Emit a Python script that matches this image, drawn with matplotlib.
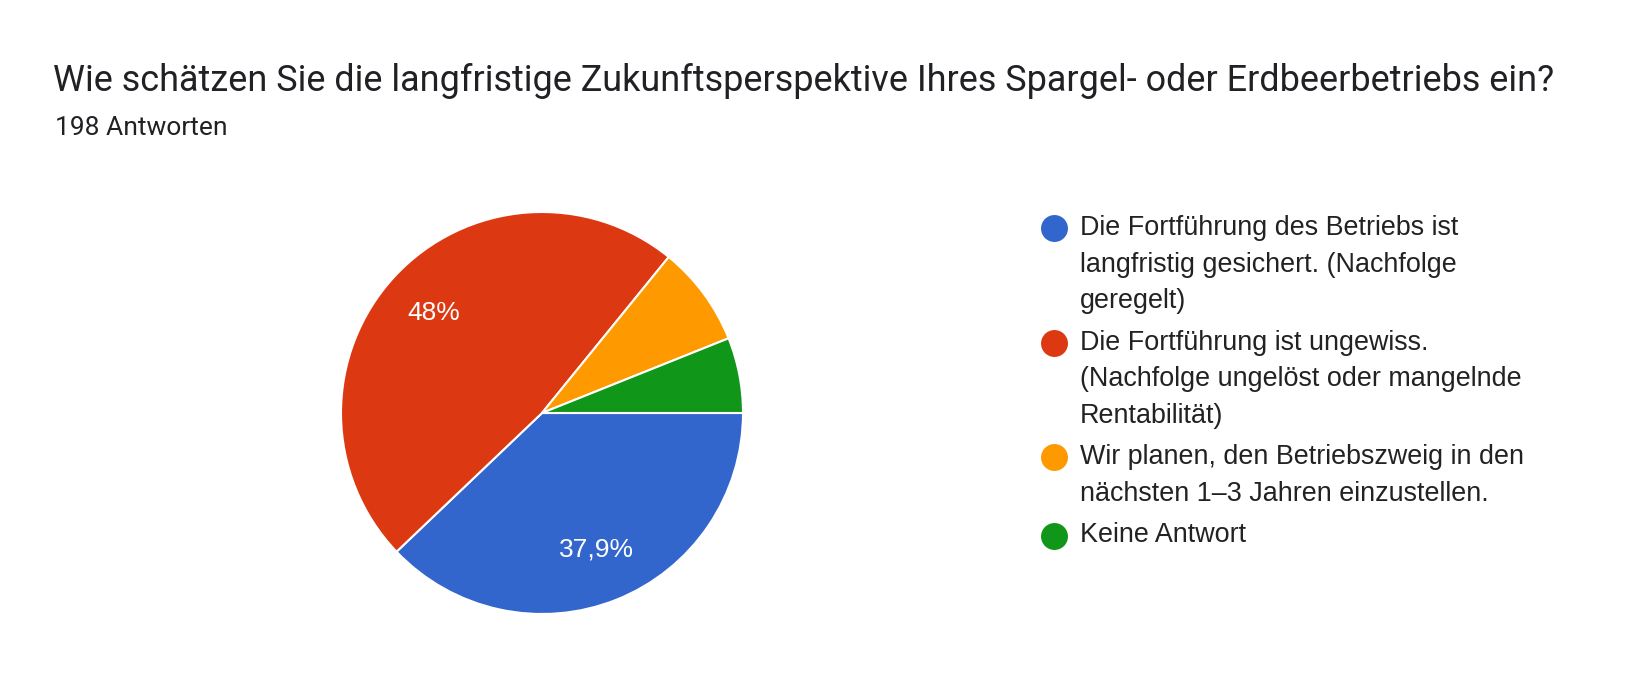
import matplotlib
matplotlib.use("Agg")
import matplotlib.pyplot as plt

title = "Wie schätzen Sie die langfristige Zukunftsperspektive Ihres Spargel- oder Erdbeerbetriebs ein?"
subtitle = "198 Antworten"

labels = [
    "Die Fortführung des Betriebs ist\nlangfristig gesichert. (Nachfolge\ngeregelt)",
    "Die Fortführung ist ungewiss.\n(Nachfolge ungelöst oder mangelnde\nRentabilität)",
    "Wir planen, den Betriebszweig in den\nnächsten 1–3 Jahren einzustellen.",
    "Keine Antwort",
]
counts = [75, 95, 16, 12]
colors = ["#3366cc", "#dc3912", "#ff9900", "#109618"]

W, H = 1646, 693
fig = plt.figure(figsize=(W / 100, H / 100), dpi=100)
fig.patch.set_facecolor("white")

# overlay axes in pixel coordinates (y downwards) for title + legend
ov = fig.add_axes([0, 0, 1, 1])
ov.set_xlim(0, W)
ov.set_ylim(H, 0)
ov.axis("off")

# pie geometry in pixels
cx, cy, r = 542, 413, 201
ax = fig.add_axes([(cx - r) / W, 1 - (cy + r) / H, 2 * r / W, 2 * r / H])


def pct_label(p):
    if p < 10:
        return ""
    s = f"{p:.1f}".replace(".", ",")
    if s.endswith(",0"):
        s = s[:-2]
    return s + "%"


arial = ["Liberation Sans", "DejaVu Sans"]
wedges, _, autotexts = ax.pie(
    counts, colors=colors, startangle=0, counterclock=False,
    autopct=pct_label, pctdistance=0.73, radius=1.0,
    wedgeprops=dict(edgecolor="white", linewidth=1.5),
    textprops=dict(color="white", fontsize=19, family=arial),
)
ax.set_xlim(-1, 1)
ax.set_ylim(-1, 1)
ax.set_aspect("equal")
ax.axis("off")

ov.text(53, 81, title, fontsize=25.9, family="Roboto",
        color="#202124", va="center", ha="left")
ov.text(55, 128, subtitle, fontsize=19, family="Roboto",
        color="#202124", va="center", ha="left")

# legend drawn by hand, Google Forms style
line_h = 36.6
entry_gap = 41.5
y = 228
for lab, col in zip(labels, colors):
    ov.plot([1054], [y], "o", markersize=19.4, color=col, markeredgewidth=0)
    lines = lab.split("\n")
    for k, ln in enumerate(lines):
        ov.text(1080, y + k * line_h, ln, fontsize=19.4, family=arial,
                color="#222222", va="center", ha="left")
    y += (len(lines) - 1) * line_h + entry_gap

fig.savefig("out.png", dpi=100, facecolor="white")
